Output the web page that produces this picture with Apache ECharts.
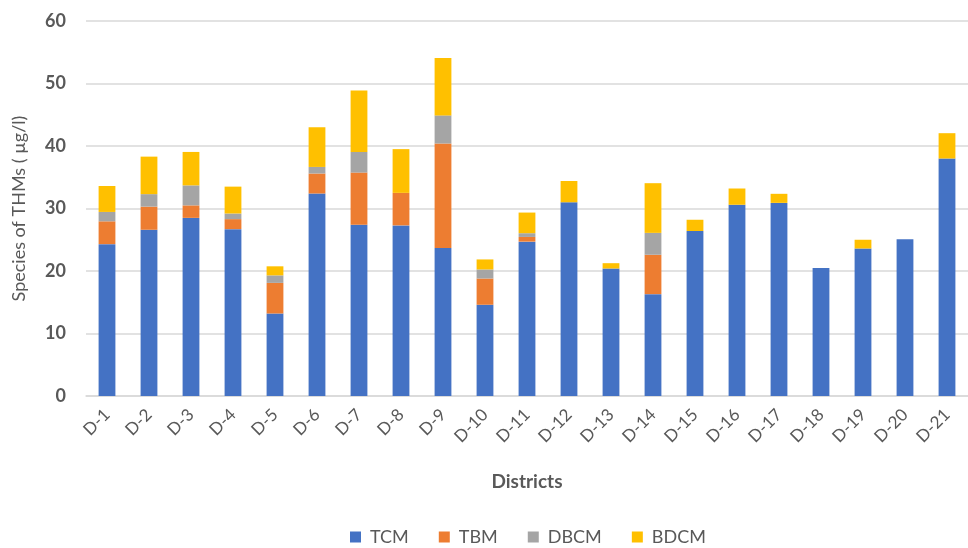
<!DOCTYPE html>
<html>
<head>
<meta charset="utf-8">
<script src="https://cdn.jsdelivr.net/npm/echarts@6/dist/echarts.min.js"></script>
<style>
  html, body { margin: 0; padding: 0; background: #fff; }
  #chart { width: 968px; height: 548px; }
</style>
</head>
<body>
<div id="chart"></div>
<script>
// Trihalomethane species per district (µg/l)
const districts = ['D-1','D-2','D-3','D-4','D-5','D-6','D-7','D-8','D-9','D-10','D-11',
                   'D-12','D-13','D-14','D-15','D-16','D-17','D-18','D-19','D-20','D-21'];
const tcm  = [24.3, 26.6, 28.5, 26.7, 13.2, 32.4, 27.4, 27.3, 23.7, 14.6, 24.7,
              31.0, 20.4, 16.3, 26.4, 30.6, 30.9, 20.5, 23.6, 25.1, 38.0];
const tbm  = [3.65, 3.7, 2.0, 1.6, 4.9, 3.2, 8.35, 5.2, 16.7, 4.2, 0.75,
              0, 0, 6.3, 0, 0, 0, 0, 0, 0, 0];
const dbcm = [1.5, 2.0, 3.2, 0.9, 1.2, 1.05, 3.3, 0, 4.5, 1.45, 0.6,
              0, 0, 3.5, 0, 0, 0, 0, 0, 0, 0];
const bdcm = [4.15, 6.0, 5.35, 4.3, 1.45, 6.35, 9.85, 7.0, 9.2, 1.6, 3.3,
              3.4, 0.85, 7.95, 1.8, 2.6, 1.45, 0, 1.4, 0, 4.05];
const yTicks = [0, 10, 20, 30, 40, 50, 60];

const FONT = 'Lato, "Open Sans", sans-serif';
const textGray = '#595959';

const seriesDefs = [
  { name: 'TCM',  data: tcm,  color: '#4472C4' },
  { name: 'TBM',  data: tbm,  color: '#ED7D31' },
  { name: 'DBCM', data: dbcm, color: '#A5A5A5' },
  { name: 'BDCM', data: bdcm, color: '#FFC000' }
];

const chart = echarts.init(document.getElementById('chart'), null, { renderer: 'canvas' });
chart.setOption({
  animation: false,
  textStyle: { fontFamily: FONT },
  grid: { left: 86, right: 0, top: 21, bottom: 152, containLabel: false },
  legend: {
    top: 523,
    left: 345,
    itemWidth: 11,
    itemHeight: 11,
    itemGap: 30,
    icon: 'rect',
    textStyle: { fontFamily: FONT, fontSize: 18, color: textGray, padding: [0, 0, 0, 4] },
    data: seriesDefs.map(s => s.name)
  },
  xAxis: {
    type: 'category',
    data: districts,
    name: 'Districts',
    nameLocation: 'middle',
    nameGap: 76,
    nameTextStyle: { fontFamily: FONT, fontSize: 19, fontWeight: 'bold', color: textGray },
    axisLine: { show: true, lineStyle: { color: '#D9D9D9', width: 1.5 } },
    axisTick: { show: false },
    axisLabel: { rotate: 45, margin: 16, fontSize: 17, color: textGray, fontFamily: FONT, interval: 0 }
  },
  yAxis: {
    type: 'value',
    min: yTicks[0],
    max: yTicks[yTicks.length - 1],
    interval: yTicks[1] - yTicks[0],
    name: 'Species of THMs ( µg/l)',
    nameLocation: 'middle',
    nameGap: 58,
    nameRotate: 90,
    nameTextStyle: { fontFamily: FONT, fontSize: 18, color: textGray },
    axisLine: { show: false },
    axisTick: { show: false },
    axisLabel: { fontSize: 18, fontWeight: 'bold', color: textGray, margin: 20, fontFamily: FONT },
    splitLine: { lineStyle: { color: '#D9D9D9', width: 1.5 } }
  },
  series: seriesDefs.map(s => ({
    name: s.name,
    type: 'bar',
    stack: 'thm',
    barWidth: '40%',
    itemStyle: { color: s.color },
    data: s.data
  }))
});
</script>
</body>
</html>
